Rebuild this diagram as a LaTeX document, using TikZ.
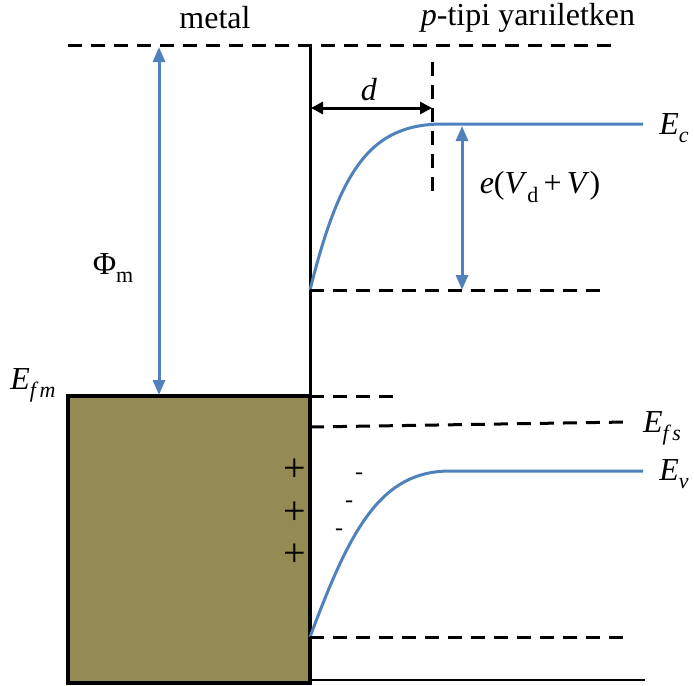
\documentclass[tikz,border=0pt]{standalone}
\usepackage{fontspec}
\setmainfont{Liberation Serif}
\usetikzlibrary{positioning,arrows.meta}
\definecolor{band}{HTML}{4F81BD}
\definecolor{metalfill}{HTML}{948A54}
\newcommand{\lsub}[1]{\raisebox{-0.55ex}{\fontsize{11}{11}\selectfont #1}}

\begin{document}
\begin{tikzpicture}[
  x=0.5pt, y=-0.5pt,
  lbl/.style={font=\fontsize{16}{18}\selectfont, inner sep=0pt},
  level/.style={line width=1.5pt, dash pattern=on 7pt off 4.5pt},
  bandline/.style={band, line width=1.5pt},
  barr/.style={{Triangle[length=7.5pt, width=6pt]}-{Triangle[length=7.5pt, width=6pt]},
               band, line width=1.5pt},
  karr/.style={{Triangle[length=6pt, width=6pt]}-{Triangle[length=6pt, width=6pt]},
               line width=1.5pt}
]
  \useasboundingbox (0,0) rectangle (694,685);

  % metal block
  \fill[metalfill] (68,396) rectangle (310,683);
  \draw[line width=2pt] (68,396) rectangle (310,683);

  % vacuum level and interface
  \draw[level] (68,45) -- (620,45);
  \draw[line width=1.5pt] (310,45) -- (310,683);

  % named points
  \coordinate (phitop) at (159,47);
  \coordinate (phibot) at (159,395);
  \coordinate (ecstart) at (310,290);
  \coordinate (ecflat) at (443,124);
  \coordinate (ecend) at (643,124);
  \coordinate (evstart) at (310,637);
  \coordinate (evflat) at (450,471);
  \coordinate (evend) at (643,471);
  \coordinate (dleft) at (311,108);
  \coordinate (dright) at (432,108);
  \coordinate (etop) at (462,126);
  \coordinate (ebot) at (462,290);

  % work function of the metal
  \draw[barr] (phitop) -- (phibot);

  % conduction band
  \draw[bandline] (ecstart) .. controls (340,170) and (370,124) .. (ecflat) -- (ecend);
  \draw[level] (432,62) -- (432,193);
  \draw[karr] (dleft) -- (dright);
  \draw[barr] (etop) -- (ebot);
  \draw[level] (ecstart) -- (605,290);

  % Fermi levels
  \draw[level] (310,396) -- (395,396);
  \draw[level] (310,427) -- (627,422);

  % valence band
  \draw[bandline] (evstart) .. controls (350,530) and (380,471) .. (evflat) -- (evend);
  \draw[level] (evstart) -- (627,637);
  \draw[line width=1pt] (310,680) -- (645,680);

  % Labels
  \node[lbl] (metal) at (215,18) {metal};
  \node[lbl] (semi) at (528,18) {\textit{p}-tipi yarıiletken};
  \node[lbl] (dlbl) at (369,90) {\textit{d}};
  \node[lbl] (eclbl) at (674,128) {\textit{E}\lsub{\textit{c}}};
  \node[lbl] (elbl) at (540,187) {\textit{e}(\textit{V}\lsub{d}\,+\,\textit{V})};
  \node[lbl] (philbl) at (113,268) {Φ\lsub{m}};
  \node[lbl] (efmlbl) at (33,385) {\textit{E}\lsub{\textit{f\,m}}};
  \node[lbl] (efslbl) at (662,428) {\textit{E}\lsub{\textit{f\,s}}};
  \node[lbl] (evlbl) at (674,474) {\textit{E}\lsub{\textit{v}}};

  % charges
  \foreach \yy [count=\i] in {470,513,555}
    \node[font=\fontsize{20}{20}\selectfont, inner sep=0pt] (plus\i) at (295,\yy) {+};
  \foreach \xx/\yy [count=\i] in {359/476,349/504,339/532}
    \node[font=\fontsize{12}{12}\selectfont, inner sep=0pt] (minus\i) at (\xx,\yy) {-};
\end{tikzpicture}
\end{document}
